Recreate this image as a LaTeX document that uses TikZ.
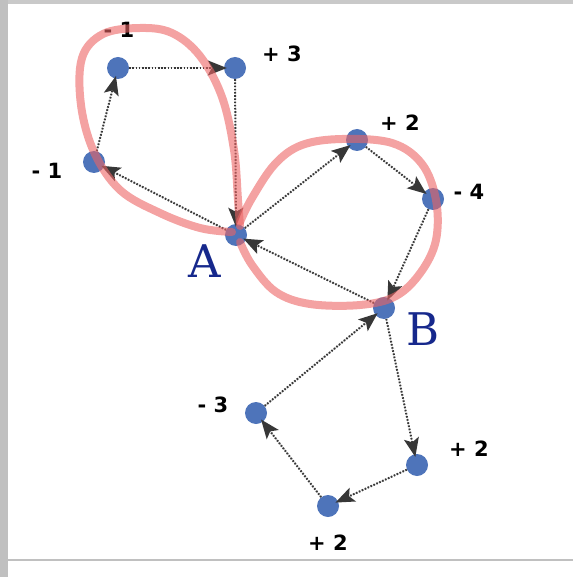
\documentclass[tikz,border=0pt]{standalone}
\usepackage{fontspec}
\usepackage{tikz}
\usetikzlibrary{arrows.meta}
\newfontfamily\valfont{DejaVu Sans}
\newfontfamily\tagfont{DejaVu Serif}
\definecolor{dotblue}{RGB}{78,116,186}
\definecolor{linkgrey}{RGB}{55,55,55}
\definecolor{loopred}{RGB}{236,100,100}
\definecolor{tagblue}{RGB}{22,40,140}
\definecolor{rimgrey}{RGB}{192,192,192}

\begin{document}
\begin{tikzpicture}[x=1pt,y=-1pt,
  dot/.style={circle,fill=dotblue,inner sep=0pt,minimum size=22pt},
  link/.style={-{Stealth[length=19pt,width=15pt,inset=4pt]},draw=linkgrey,fill=linkgrey,line width=2pt,dash pattern=on 1.6pt off 1.6pt,shorten >=-3pt},
  val/.style={font=\valfont\bfseries\fontsize{21}{21}\selectfont},
  tag/.style={text=tagblue,font=\tagfont\fontsize{45}{45}\selectfont},
  loopline/.style={draw=loopred,line width=8pt,opacity=0.6,line cap=round}]
\useasboundingbox (0,0) rectangle (573,577);
\fill[rimgrey] (0,0) rectangle (8,577);
\fill[rimgrey!85] (8,0) rectangle (573,4);
\draw[rimgrey,line width=1.2pt] (8,560) -- (573,560);

% points
\node[dot] (u1) at (118,68) {};
\node[dot] (u2) at (235,68) {};
\node[dot] (u3) at (94,162) {};
\node[dot] (na) at (236,235) {};
\node[dot] (r1) at (357,140) {};
\node[dot] (r2) at (433,199) {};
\node[dot] (nb) at (384,308) {};
\node[dot] (d1) at (256,413) {};
\node[dot] (d2) at (417,465) {};
\node[dot] (d3) at (328,506) {};

% values
\node[val] (vu1) at (119,30) {- 1};
\node[val] (vu2) at (282,54) {+ 3};
\node[val] (vu3) at (47,171) {- 1};
\node[val] (vr1) at (400,123) {+ 2};
\node[val] (vr2) at (469,192) {- 4};
\node[val] (vd1) at (213,405) {- 3};
\node[val] (vd2) at (469,449) {+ 2};
\node[val] (vd3) at (328,543) {+ 2};
\node[tag] (ta) at (205,261) {A};
\node[tag] (tb) at (423,329) {B};

% moves
\draw[link] (u1) -- (u2);
\draw[link] (u2) -- (na);
\draw[link] (na) -- (u3);
\draw[link] (u3) -- (u1);
\draw[link] (na) -- (r1);
\draw[link] (r1) -- (r2);
\draw[link] (r2) -- (nb);
\draw[link] (nb) -- (na);
\draw[link] (nb) -- (d2);
\draw[link] (d2) -- (d3);
\draw[link] (d3) -- (d1);
\draw[link] (d1) -- (nb);

% cycles through A
\draw[loopline] plot[smooth,tension=0.6] coordinates {(232,232) (200,228) (160,213) (120,190) (94,152) (81,105) (82,58) (103,34) (140,28) (172,33) (200,56) (222,97) (234,150) (238,200) (240,226)};
\draw[loopline] plot[smooth,tension=0.6] coordinates {(240,222) (252,198) (275,164) (302,145) (342,139) (392,143) (422,164) (436,200) (436,240) (421,272) (396,296) (360,305) (310,304) (276,292) (252,265) (240,242)};
\end{tikzpicture}
\end{document}
